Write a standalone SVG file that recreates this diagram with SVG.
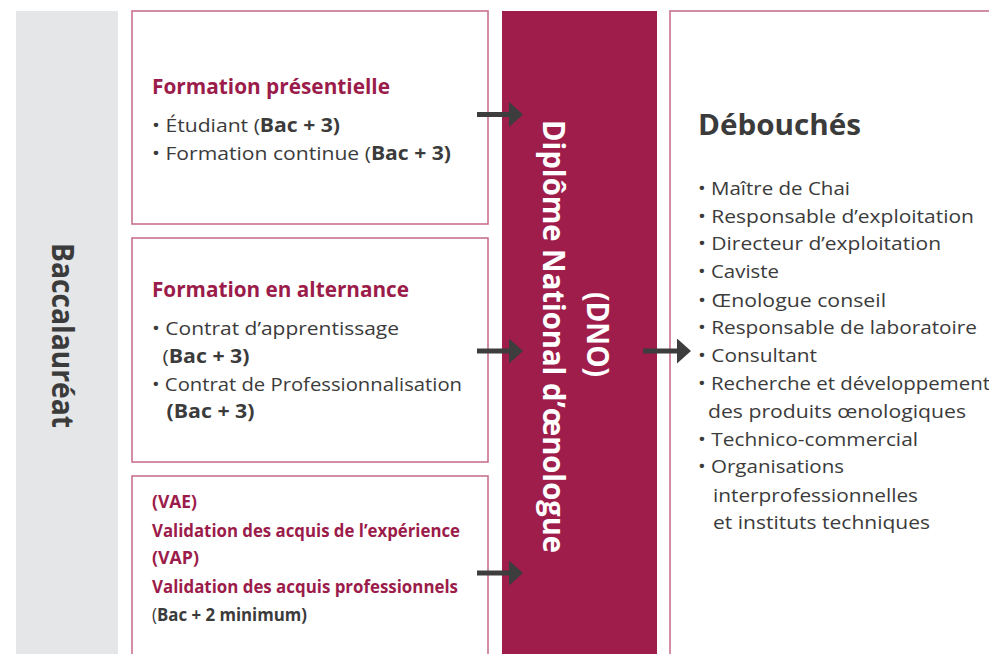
<svg xmlns="http://www.w3.org/2000/svg" width="989" height="654" viewBox="0 0 989 654">
<defs>
<style>
text{font-family:"Open Sans","Noto Sans","Liberation Sans",sans-serif;fill:#3b3b3b}
.box{fill:#fff;stroke:#c8718f;stroke-width:1.6}
.t{font-size:21.5px;font-weight:700;fill:#9b1c4a}
.i{font-size:19px}
.b{font-weight:700}
.v{font-size:17.5px;font-weight:700;fill:#9b1c4a}
.vb{font-size:17.5px;fill:#3b3b3b}
.h{font-size:28px;font-weight:700}
.r{font-size:29.5px;font-weight:700}
.arr{stroke:#3d3d3d;stroke-width:5;fill:none}
</style>
<marker id="ah" markerUnits="userSpaceOnUse" markerWidth="15" markerHeight="26" refX="0" refY="12.5" orient="auto">
<path d="M0,0 L14,12.5 L0,25 z" fill="#3d3d3d"/>
</marker>
</defs>
<rect width="989" height="654" fill="#fff"/>

<g id="bac">
<rect x="16" y="11" width="102" height="650" fill="#e5e6e8"/>
<text class="r" transform="translate(52,243) rotate(90)" textLength="185" lengthAdjust="spacingAndGlyphs">Baccalauréat</text>
</g>

<g id="presentielle">
<rect class="box" x="132" y="11" width="356" height="213"/>
<text class="t" x="152" y="94" textLength="238" lengthAdjust="spacingAndGlyphs">Formation présentielle</text>
<text class="i" x="152" y="132" textLength="188" lengthAdjust="spacingAndGlyphs">• Étudiant (<tspan class="b">Bac + 3)</tspan></text>
<text class="i" x="152" y="160" textLength="299" lengthAdjust="spacingAndGlyphs">• Formation continue (<tspan class="b">Bac + 3)</tspan></text>
</g>

<g id="alternance">
<rect class="box" x="132" y="238" width="356" height="224"/>
<text class="t" x="152" y="297" textLength="257" lengthAdjust="spacingAndGlyphs">Formation en alternance</text>
<text class="i" x="152" y="335" textLength="247" lengthAdjust="spacingAndGlyphs">• Contrat d’apprentissage</text>
<text class="i" x="162.5" y="363" textLength="87" lengthAdjust="spacingAndGlyphs">(<tspan class="b">Bac + 3)</tspan></text>
<text class="i" x="152" y="391" textLength="310" lengthAdjust="spacingAndGlyphs">• Contrat de Professionnalisation</text>
<text class="i b" x="166.5" y="418" textLength="88" lengthAdjust="spacingAndGlyphs">(Bac + 3)</text>
</g>

<g id="vae">
<rect class="box" x="132" y="476" width="356" height="190"/>
<text class="v" x="152" y="508" textLength="45" lengthAdjust="spacingAndGlyphs">(VAE)</text>
<text class="v" x="152" y="537" textLength="308" lengthAdjust="spacingAndGlyphs">Validation des acquis de l’expérience</text>
<text class="v" x="152" y="564" textLength="47" lengthAdjust="spacingAndGlyphs">(VAP)</text>
<text class="v" x="152" y="593" textLength="306" lengthAdjust="spacingAndGlyphs">Validation des acquis professionnels</text>
<text class="vb" x="152" y="621" textLength="155" lengthAdjust="spacingAndGlyphs">(<tspan class="b">Bac + 2 minimum)</tspan></text>
</g>

<g id="dno">
<rect x="502" y="11" width="155" height="650" fill="#9f1d4b"/>
<text class="r" fill="#fff" style="fill:#fff" transform="translate(587,292) rotate(90)" textLength="85" lengthAdjust="spacingAndGlyphs">(DNO)</text>
<text class="r" style="fill:#fff" transform="translate(543,120) rotate(90)" textLength="433" lengthAdjust="spacingAndGlyphs">Diplôme National d’œnologue</text>
</g>

<g id="debouches">
<rect class="box" x="670" y="11" width="330" height="660"/>
<text class="h" x="698" y="135" textLength="163" lengthAdjust="spacingAndGlyphs">Débouchés</text>
<text class="i" x="698" y="195" textLength="152" lengthAdjust="spacingAndGlyphs">• Maître de Chai</text>
<text class="i" x="698" y="223" textLength="276" lengthAdjust="spacingAndGlyphs">• Responsable d’exploitation</text>
<text class="i" x="698" y="250" textLength="243" lengthAdjust="spacingAndGlyphs">• Directeur d’exploitation</text>
<text class="i" x="698" y="278" textLength="81" lengthAdjust="spacingAndGlyphs">• Caviste</text>
<text class="i" x="698" y="307" textLength="188" lengthAdjust="spacingAndGlyphs">• Œnologue conseil</text>
<text class="i" x="698" y="334" textLength="279" lengthAdjust="spacingAndGlyphs">• Responsable de laboratoire</text>
<text class="i" x="698" y="362" textLength="119" lengthAdjust="spacingAndGlyphs">• Consultant</text>
<text class="i" x="698" y="390" textLength="292" lengthAdjust="spacingAndGlyphs">• Recherche et développement</text>
<text class="i" x="708" y="418" textLength="258" lengthAdjust="spacingAndGlyphs">des produits œnologiques</text>
<text class="i" x="698" y="446" textLength="220" lengthAdjust="spacingAndGlyphs">• Technico-commercial</text>
<text class="i" x="698" y="473" textLength="146" lengthAdjust="spacingAndGlyphs">• Organisations</text>
<text class="i" x="713" y="502" textLength="205" lengthAdjust="spacingAndGlyphs">interprofessionnelles</text>
<text class="i" x="713" y="529" textLength="217" lengthAdjust="spacingAndGlyphs">et instituts techniques</text>
</g>

<g id="connectors">
<line class="arr" x1="477" y1="114.5" x2="509" y2="114.5" marker-end="url(#ah)"/>
<line class="arr" x1="477" y1="351" x2="509" y2="351" marker-end="url(#ah)"/>
<line class="arr" x1="477" y1="573" x2="509" y2="573" marker-end="url(#ah)"/>
<line class="arr" x1="643" y1="351" x2="677" y2="351" marker-end="url(#ah)"/>
</g>
</svg>
